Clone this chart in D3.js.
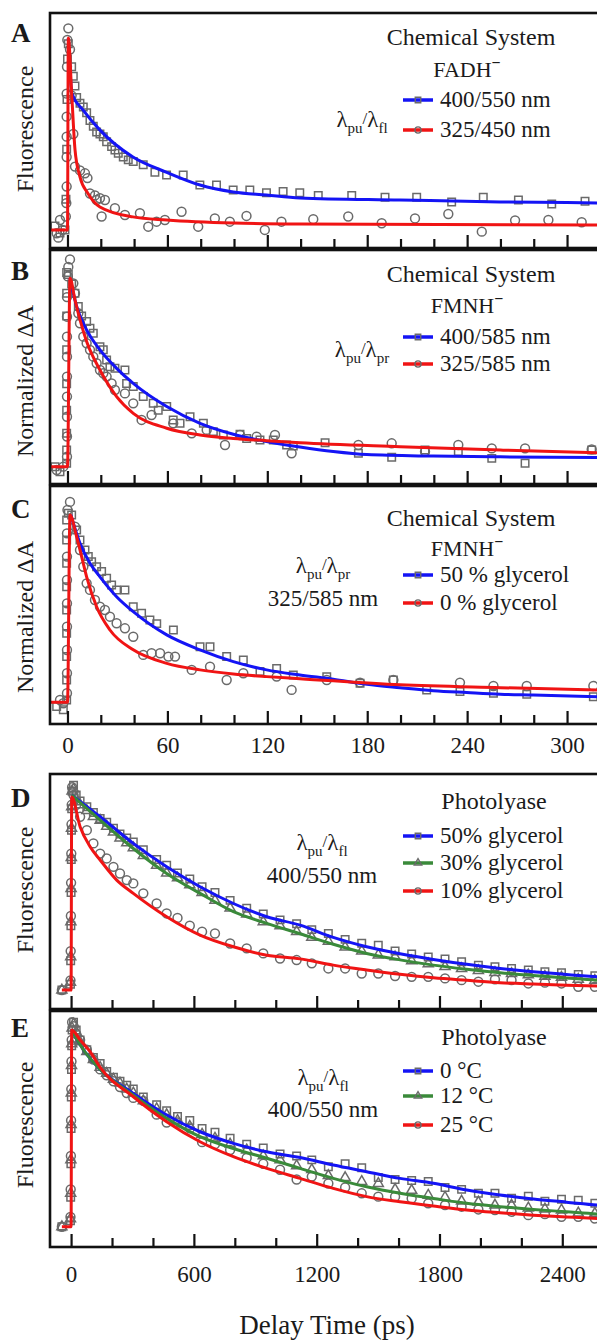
<!DOCTYPE html>
<html>
<head>
<meta charset="utf-8">
<script src="https://cdn.jsdelivr.net/npm/d3@7"></script>
<style>
body { margin: 0; background: #fff; }
svg text { font-family: "Times New Roman", "Liberation Serif", "DejaVu Serif", serif; fill: #1a1a1a; }
</style>
</head>
<body>
<script>
// ---------------- data (time in ps, normalized signal) ----------------

// panel A : FADH- fluorescence
var aSq400 = [[-7.5,0.02],[-4.5,-0.016],[-1.5,0],[-0.9,0.16],[-0.5,0.42],[-0.3,0.68],[0,0.89],[0.5,0.97],[2.5,0.85],[3.5,0.80],[4.5,0.75],[5.5,0.69],[7.5,0.66],[9.5,0.64],[11.5,0.61],[13.5,0.57],[15.5,0.54],[17.5,0.51],[19.5,0.50],[21.5,0.486],[23.5,0.46],[26.5,0.434],[28.5,0.417],[30.5,0.40],[33.5,0.38],[36.5,0.365],[39.5,0.356],[45.5,0.34],[52.5,0.30],[59.5,0.286],[69.5,0.286],[79.5,0.234],[89.5,0.234],[99.5,0.208],[109.5,0.208],[119.5,0.194],[129.5,0.2],[139.5,0.194],[150.6,0.18],[170.7,0.18],[190.7,0.17],[209.7,0.17],[230.7,0.146],[249.7,0.17],[270.8,0.156],[290.8,0.135],[310.8,0.15]];
var aCi325 = [[-6.5,-0.017],[-5.5,-0.04],[-4.5,0.052],[-3,0.0],[-1,0.07],[-0.7,0.14],[-0.5,0.226],[-0.5,0.38],[-0.5,0.486],[-0.5,0.59],[-0.5,0.71],[-0.3,0.85],[-0.1,0.99],[0.5,1.05],[1.5,0.94],[2.5,0.7],[3.5,0.5],[4.5,0.33],[7.5,0.31],[10.5,0.295],[12,0.27],[13.5,0.19],[16.5,0.18],[17.5,0.156],[19.5,0.165],[20.5,0.07],[22.5,0.156],[28.5,0.113],[34.5,0.078],[43.5,0.087],[48.5,0.017],[53.5,0.043],[58.5,0.052],[68.5,0.095],[78.5,0.017],[88.5,0.06],[97.5,0.043],[107.5,0.073],[118.5,0.0],[128.5,0.043],[147.6,0.056],[168.6,0.07],[188.7,0.035],[208.7,0.06],[228.7,0.083],[248.8,-0.009],[268.8,0.05],[288.8,0.052],[308.8,0.04]];
var aFit400 = [[0.5,1.0],[2.7,0.71],[9.3,0.625],[19.5,0.52],[39.3,0.38],[59.6,0.30],[79.6,0.234],[99.5,0.198],[119.5,0.182],[139.6,0.167],[199.7,0.156],[259.8,0.146],[318,0.141],[330,0.14]];
var aFit325 = [[-10.5,0],[0,0],[0.5,1.0],[2.7,0.68],[4.5,0.42],[7.5,0.276],[12.3,0.19],[19.5,0.12],[39.3,0.068],[59.6,0.052],[99.5,0.036],[139.6,0.031],[318,0.026],[330,0.026]];

// panel B : FMNH- transient absorption
var bSq400 = [[-7.5,0],[-4.5,-0.027],[-0.5,0.018],[-0.5,0.088],[-0.5,0.177],[-0.5,0.30],[-0.5,0.44],[-0.5,0.62],[-0.5,0.80],[-0.5,0.92],[-0.5,1.03],[0.5,1.02],[2.5,0.97],[4.5,0.92],[6.5,0.85],[8.5,0.80],[11.5,0.77],[13.5,0.735],[15.5,0.708],[19.5,0.637],[21.5,0.62],[23.5,0.566],[25.5,0.53],[28.5,0.522],[34.5,0.513],[35.5,0.442],[39.5,0.425],[45.5,0.372],[51.5,0.336],[54.5,0.30],[59.6,0.319],[63.5,0.248],[67.6,0.23],[73.6,0.265],[81.6,0.23],[87.6,0.186],[93.6,0.168],[103.6,0.172],[107.6,0.15],[115.6,0.142],[123.6,0.142],[131.6,0.115],[135.6,0.11],[154.7,0.127],[174.7,0.071],[194.7,0.05],[214.7,0.088],[234.7,0.08],[254.8,0.044],[274.8,0.018],[314.8,0.088]];
var bCi325 = [[-6.5,-0.018],[-2.5,0],[-0.3,0.053],[-0.3,0.16],[-0.3,0.265],[-0.3,0.372],[-0.3,0.478],[-0.3,0.584],[-0.3,0.69],[-0.3,0.796],[-0.3,0.90],[0.2,1.01],[0.5,1.06],[1.5,1.1],[3.5,0.973],[4.5,0.92],[6.5,0.814],[7.5,0.761],[9.5,0.69],[11.5,0.655],[13.5,0.62],[15.5,0.584],[17.5,0.549],[19.5,0.513],[21.5,0.496],[23.5,0.478],[26.5,0.442],[28.5,0.407],[34.5,0.389],[39.5,0.336],[44.5,0.248],[50.5,0.274],[63.5,0.23],[74.6,0.177],[83.6,0.195],[94.6,0.115],[103.6,0.168],[113.6,0.159],[124.6,0.168],[134.6,0.071],[174.7,0.115],[194.7,0.124],[214.7,0.08],[234.7,0.115],[254.8,0.097],[274.8,0.097],[314.8,0.092]];
var bFit400 = [[1.5,1.0],[5.5,0.85],[11.5,0.726],[19.5,0.62],[29.5,0.522],[39.5,0.442],[59.6,0.319],[79.6,0.23],[99.6,0.172],[119.6,0.133],[139.6,0.104],[159.6,0.08],[179.7,0.064],[219.7,0.056],[259.8,0.052],[318,0.049],[330,0.049]];
var bFit325 = [[-10.5,0],[0,0],[1.5,1.0],[4.5,0.885],[7.5,0.78],[11.5,0.664],[19.5,0.513],[29.5,0.372],[39.5,0.283],[59.6,0.204],[79.6,0.168],[99.6,0.15],[119.6,0.138],[139.6,0.127],[199.7,0.106],[259.8,0.088],[318,0.074],[330,0.072]];

// panel C : FMNH- in glycerol
var cSq50 = [[-6.5,-0.023],[-2.5,-0.04],[-0.5,0.012],[-0.5,0.119],[-0.5,0.244],[-0.5,0.368],[-0.5,0.493],[-0.5,0.617],[-0.5,0.742],[-0.5,0.867],[-0.5,0.973],[0.5,1.01],[2.5,1.0],[5.5,0.92],[7.5,0.867],[10.5,0.813],[12.5,0.778],[14.5,0.751],[17.5,0.724],[20.5,0.698],[23.5,0.662],[26.5,0.626],[29.5,0.6],[34.5,0.6],[39.5,0.51],[44.5,0.475],[49.5,0.44],[53.6,0.42],[63.6,0.386],[79.6,0.297],[85.6,0.297],[95.6,0.244],[105.6,0.226],[115.6,0.164],[125.6,0.181],[135.6,0.146],[155.7,0.137],[175.7,0.101],[195.7,0.119],[215.7,0.066],[235.7,0.057],[255.8,0.048],[275.8,0.043],[315.8,0.03]];
var cCi0 = [[-4.5,0.012],[-2.5,-0.005],[-0.3,0.048],[-0.3,0.155],[-0.3,0.279],[-0.3,0.404],[-0.3,0.528],[-0.3,0.653],[-0.3,0.778],[-0.3,0.902],[0,1.027],[1.5,1.07],[4.5,0.938],[7.5,0.813],[9.5,0.724],[11.5,0.635],[13.5,0.6],[16.5,0.546],[19.5,0.51],[22.5,0.493],[25.5,0.457],[29.5,0.422],[34.5,0.395],[39.5,0.35],[45.5,0.253],[50.5,0.262],[55.6,0.262],[60.6,0.244],[64.6,0.244],[74.6,0.173],[85.6,0.19],[95.6,0.119],[105.6,0.155],[125.6,0.137],[134.6,0.066],[155.7,0.119],[175.7,0.105],[195.7,0.119],[235.7,0.105],[255.8,0.087],[275.8,0.087],[315.8,0.087]];
var cFit50 = [[2,1.0],[7.5,0.849],[13.5,0.742],[19.5,0.67],[29.5,0.564],[39.5,0.484],[59.6,0.36],[79.6,0.28],[99.6,0.217],[119.6,0.173],[139.6,0.146],[159.6,0.123],[179.7,0.096],[199.7,0.078],[219.7,0.062],[239.8,0.052],[259.8,0.043],[279.8,0.039],[318,0.03],[330,0.028]];
var cFit0 = [[-10.5,0],[0,0],[1.5,1.0],[5.5,0.884],[8.5,0.778],[11.5,0.67],[17.5,0.51],[25.5,0.386],[39.5,0.28],[59.6,0.208],[79.6,0.173],[99.6,0.151],[119.6,0.137],[139.6,0.126],[199.7,0.093],[259.8,0.078],[318,0.066],[330,0.064]];

// panels D and E share one set of delay times
var longTimes = [-45,-3,-2,-1,0,1,2,3,5,12,25,44,77,109,142,174,207,239,272,304,353,418,467,520,580,640,703,777,858,939,1021,1102,1176,1257,1339,1420,1501,1583,1664,1745,1827,1908,1990,2071,2152,2234,2315,2396,2478,2559];

// panel D : photolyase, glycerol series
var dSq50 = [0,0.03,0.15,0.33,0.5,0.67,0.82,0.93,1.02,1.05,1.0,0.97,0.94,0.91,0.88,0.86,0.83,0.8,0.78,0.76,0.72,0.67,0.64,0.6,0.57,0.53,0.5,0.46,0.42,0.39,0.36,0.34,0.31,0.29,0.26,0.24,0.23,0.2,0.185,0.17,0.16,0.145,0.128,0.12,0.111,0.103,0.094,0.089,0.08,0.074];
var dTr30 = [0,0.04,0.17,0.35,0.52,0.68,0.83,0.94,1.02,1.03,0.98,0.95,0.92,0.89,0.87,0.84,0.81,0.78,0.755,0.73,0.69,0.64,0.6,0.575,0.54,0.5,0.46,0.42,0.39,0.35,0.33,0.3,0.27,0.25,0.22,0.2,0.18,0.17,0.15,0.135,0.12,0.11,0.1,0.09,0.085,0.078,0.07,0.065,0.055,0.05];
var dCi10 = [0,0.05,0.2,0.38,0.55,0.7,0.85,0.95,1.04,1.0,0.95,0.889,0.82,0.752,0.70,0.675,0.632,0.598,0.564,0.547,0.496,0.444,0.393,0.37,0.33,0.299,0.29,0.239,0.214,0.188,0.162,0.154,0.137,0.111,0.111,0.085,0.085,0.072,0.068,0.068,0.06,0.051,0.043,0.055,0.051,0.034,0.038,0.034,0.017,0.017];
var dFit50 = [[3,1.0],[142,0.889],[304,0.752],[467,0.632],[630,0.53],[793,0.444],[956,0.376],[1119,0.333],[1281,0.27],[1444,0.222],[1607,0.186],[1770,0.157],[1933,0.132],[2096,0.111],[2258,0.094],[2420,0.08],[2570,0.068],[2700,0.06]];
var dFit30 = [[3,1.0],[142,0.872],[304,0.726],[467,0.598],[630,0.496],[793,0.402],[956,0.342],[1119,0.289],[1281,0.235],[1444,0.188],[1607,0.155],[1770,0.128],[1933,0.107],[2096,0.089],[2258,0.075],[2420,0.062],[2570,0.051],[2700,0.045]];
var dFit10 = [[-45,0],[0,0],[3,0.99],[44,0.838],[93,0.735],[142,0.667],[223,0.564],[304,0.496],[467,0.376],[630,0.282],[793,0.222],[956,0.179],[1119,0.16],[1281,0.128],[1444,0.103],[1607,0.081],[1770,0.063],[1933,0.05],[2096,0.038],[2258,0.031],[2420,0.025],[2570,0.021],[2700,0.019]];

// panel E : photolyase, temperature series
var eSq0 = [0,0.03,0.15,0.32,0.5,0.66,0.8,0.92,1.0,1.04,1.0,0.95,0.9,0.86,0.83,0.79,0.76,0.74,0.72,0.7,0.66,0.62,0.59,0.56,0.54,0.5,0.48,0.45,0.42,0.4,0.37,0.36,0.34,0.305,0.32,0.3,0.25,0.24,0.235,0.23,0.2,0.19,0.17,0.17,0.145,0.155,0.13,0.14,0.135,0.12];
var eTr12 = [0,0.04,0.17,0.34,0.52,0.68,0.82,0.93,1.01,1.03,0.99,0.94,0.89,0.85,0.81,0.78,0.75,0.73,0.7,0.68,0.64,0.6,0.57,0.54,0.51,0.47,0.45,0.42,0.39,0.36,0.34,0.31,0.29,0.26,0.25,0.23,0.22,0.19,0.185,0.16,0.15,0.13,0.125,0.11,0.11,0.095,0.09,0.085,0.07,0.068];
var eCi25 = [0,0.05,0.19,0.36,0.54,0.7,0.84,0.95,1.04,1.02,0.98,0.95,0.9,0.85,0.8,0.77,0.74,0.71,0.68,0.655,0.64,0.57,0.53,0.53,0.5,0.43,0.42,0.39,0.35,0.32,0.29,0.24,0.255,0.22,0.2,0.17,0.153,0.153,0.144,0.119,0.11,0.102,0.088,0.085,0.076,0.059,0.064,0.051,0.051,0.042];
var eFit0 = [[3,1.0],[60,0.9],[142,0.80],[304,0.678],[467,0.568],[630,0.483],[793,0.424],[956,0.381],[1119,0.352],[1281,0.314],[1444,0.28],[1607,0.246],[1770,0.221],[1933,0.187],[2096,0.161],[2258,0.141],[2420,0.125],[2570,0.11],[2700,0.1]];
var eFit12 = [[3,1.0],[60,0.9],[142,0.80],[304,0.669],[467,0.551],[630,0.458],[793,0.398],[956,0.348],[1119,0.297],[1281,0.246],[1444,0.203],[1607,0.17],[1770,0.144],[1933,0.119],[2096,0.102],[2258,0.088],[2420,0.076],[2570,0.065],[2700,0.058]];
var eFit25 = [[-45,0],[0,0],[3,1.0],[44,0.95],[93,0.89],[142,0.81],[304,0.661],[467,0.534],[630,0.432],[793,0.356],[956,0.297],[1119,0.246],[1281,0.195],[1444,0.153],[1607,0.127],[1770,0.105],[1933,0.085],[2096,0.071],[2258,0.059],[2420,0.05],[2570,0.042],[2700,0.037]];

// tick values and legend texts
var shortMajor = [0, 60, 120, 180, 240, 300];
var shortMinor = [20, 40, 80, 100, 140, 160, 200, 220, 260, 280, 320];
var longMajor = [0, 600, 1200, 1800, 2400];
var longMinor = [200, 400, 800, 1000, 1400, 1600, 2000, 2200, 2600];
var aLabels = ["400/550 nm", "325/450 nm"];
var bLabels = ["400/585 nm", "325/585 nm"];
var cLabels = ["50 % glycerol", "0 % glycerol"];
var dLabels = ["50% glycerol", "30% glycerol", "10% glycerol"];
var eLabels = ["0 \u00B0C", "12 \u00B0C", "25 \u00B0C"];

// ---------------- drawing ----------------
var SERIF = "'Times New Roman', 'Liberation Serif', 'DejaVu Serif', serif";
var BLUE = "#1414f5", RED = "#f01414", GREEN = "#3a8a3a", GREY = "#6a6a6a";

var svg = d3.select("body").append("svg")
    .attr("width", 597)
    .attr("height", 1343)
    .attr("font-family", SERIF);

var xShort = d3.scaleLinear().domain([-10.5, 330]).range([50, 617]);
var xLong = d3.scaleLinear().domain([-103, 2700]).range([50, 623.7]);

function zipT(times, vals) { return times.map(function(t, i) { return [t, vals[i]]; }); }

var panels = [
  {letter: "A", letterY: 42, top: 13, bottom: 248, yDom: [-0.094, 1.13], x: xShort, ylab: "Fluorescence", ylabY: 129,
   series: [
     {pts: aSq400, fit: aFit400, color: BLUE, shape: d3.symbolSquare},
     {pts: aCi325, fit: aFit325, color: RED, shape: d3.symbolCircle}]},
  {letter: "B", letterY: 280, top: 250, bottom: 484, yDom: [-0.092, 1.15], x: xShort, ylab: "Normalized \u0394A", ylabY: 381,
   series: [
     {pts: bSq400, fit: bFit400, color: BLUE, shape: d3.symbolSquare},
     {pts: bCi325, fit: bFit325, color: RED, shape: d3.symbolCircle}]},
  {letter: "C", letterY: 518, top: 486, bottom: 724, yDom: [-0.116, 1.155], x: xShort, ylab: "Normalized \u0394A", ylabY: 617,
   series: [
     {pts: cSq50, fit: cFit50, color: BLUE, shape: d3.symbolSquare},
     {pts: cCi0, fit: cFit0, color: RED, shape: d3.symbolCircle}]},
  {letter: "D", letterY: 807, top: 774, bottom: 1009, yDom: [-0.097, 1.108], x: xLong, ylab: "Fluorescence", ylabY: 890,
   series: [
     {pts: zipT(longTimes, dSq50), fit: dFit50, color: BLUE, shape: d3.symbolSquare},
     {pts: zipT(longTimes, dTr30), fit: dFit30, color: GREEN, shape: d3.symbolTriangle},
     {pts: zipT(longTimes, dCi10), fit: dFit10, color: RED, shape: d3.symbolCircle}]},
  {letter: "E", letterY: 1037, top: 1011, bottom: 1247, yDom: [-0.103, 1.097], x: xLong, ylab: "Fluorescence", ylabY: 1125,
   series: [
     {pts: zipT(longTimes, eSq0), fit: eFit0, color: BLUE, shape: d3.symbolSquare},
     {pts: zipT(longTimes, eTr12), fit: eFit12, color: GREEN, shape: d3.symbolTriangle},
     {pts: zipT(longTimes, eCi25), fit: eFit25, color: RED, shape: d3.symbolCircle}]}
];

function markerSize(shape) {
  if (shape === d3.symbolSquare) return 56;
  if (shape === d3.symbolTriangle) return 44;
  return 62;
}

panels.forEach(function(p) {
  var x = p.x;
  var y = d3.scaleLinear().domain(p.yDom).range([p.bottom, p.top]);
  var g = svg.append("g").attr("class", "panel");

  // data markers
  p.series.forEach(function(s) {
    g.append("g").selectAll("path")
      .data(s.pts)
      .enter().append("path")
      .attr("d", d3.symbol().type(s.shape).size(markerSize(s.shape)))
      .attr("transform", function(d) { return "translate(" + x(d[0]) + "," + y(d[1]) + ")"; })
      .attr("fill", "none")
      .attr("stroke", GREY)
      .attr("stroke-width", 1.5);
  });

  // fitted curves on top
  var line = d3.line()
    .x(function(d) { return x(d[0]); })
    .y(function(d) { return y(d[1]); })
    .curve(d3.curveMonotoneX);
  p.series.forEach(function(s) {
    g.append("path")
      .datum(s.fit)
      .attr("d", line)
      .attr("fill", "none")
      .attr("stroke", s.color)
      .attr("stroke-width", 3);
  });

  // frame
  g.append("rect")
    .attr("x", 50).attr("y", p.top)
    .attr("width", 620).attr("height", p.bottom - p.top)
    .attr("fill", "none").attr("stroke", "#111").attr("stroke-width", 2.6);

  // inward ticks
  var major = x === xShort ? shortMajor : longMajor;
  var minor = x === xShort ? shortMinor : longMinor;
  var ax = g.append("g").attr("transform", "translate(0," + p.bottom + ")");
  ax.append("g").call(d3.axisBottom(x).tickValues(major).tickSize(-13).tickFormat(""));
  ax.append("g").call(d3.axisBottom(x).tickValues(minor).tickSize(-9).tickFormat(""));
  ax.selectAll(".domain").remove();
  ax.selectAll(".tick line").attr("stroke", "#111").attr("stroke-width", 2.2);

  // panel letter and y label
  svg.append("text")
    .attr("x", 11).attr("y", p.letterY)
    .style("font-size", "27px").style("font-weight", "bold")
    .text(p.letter);
  svg.append("text")
    .attr("transform", "translate(33," + p.ylabY + ") rotate(-90)")
    .attr("text-anchor", "middle")
    .style("font-size", "24px")
    .text(p.ylab);
});

// tick labels under C and E
function tickLabels(x, values, yPos, pad) {
  var a = svg.append("g")
    .attr("transform", "translate(0," + yPos + ")")
    .call(d3.axisBottom(x).tickValues(values).tickSize(0).tickPadding(pad).tickFormat(d3.format("d")));
  a.attr("font-family", SERIF).attr("font-size", 23);
  a.select(".domain").remove();
  a.selectAll("text").attr("fill", "#1a1a1a");
}
tickLabels(xShort, shortMajor, 724, 13);
tickLabels(xLong, longMajor, 1247, 19);

svg.append("text")
  .attr("x", 327).attr("y", 1334)
  .attr("text-anchor", "middle")
  .style("font-size", "27px")
  .text("Delay Time (ps)");

// ---------------- legends ----------------
function centered(txt, cx, by, size) {
  return svg.append("text").attr("x", cx).attr("y", by)
    .attr("text-anchor", "middle").style("font-size", (size || 23) + "px").text(txt);
}
function anion(name, cx, by) {
  var t = centered(name, cx, by, 22);
  t.append("tspan").attr("dy", -9).style("font-size", "16px").style("font-weight", "bold").text("\u2212");
}
function lambda(cx, by, sub2) {
  var t = svg.append("text").attr("x", cx).attr("y", by)
    .attr("text-anchor", "middle").style("font-size", "23px");
  t.append("tspan").text("\u03BB");
  t.append("tspan").attr("dy", 6).style("font-size", "15px").text("pu");
  t.append("tspan").attr("dy", -9).style("font-size", "17px").text("/");
  t.append("tspan").attr("dy", 3).text("\u03BB");
  t.append("tspan").attr("dy", 6).style("font-size", "15px").text(sub2);
}
function entry(label, color, shape, ly) {
  svg.append("line")
    .attr("x1", 403).attr("x2", 433).attr("y1", ly).attr("y2", ly)
    .attr("stroke", color).attr("stroke-width", 3.5);
  svg.append("path")
    .attr("d", d3.symbol().type(shape).size(shape === d3.symbolTriangle ? 24 : 30))
    .attr("transform", "translate(418," + ly + ")")
    .attr("fill", "none").attr("stroke", GREY).attr("stroke-width", 1.4);
  svg.append("text").attr("x", 440).attr("y", ly + 7)
    .style("font-size", "23px").text(label);
}

// A
centered("Chemical System", 471, 45, 24);
anion("FADH", 467, 77);
lambda(362, 127, "fl");
entry(aLabels[0], BLUE, d3.symbolSquare, 100);
entry(aLabels[1], RED, d3.symbolCircle, 130);

// B
centered("Chemical System", 471, 282, 24);
anion("FMNH", 467, 313);
lambda(362, 357, "pr");
entry(bLabels[0], BLUE, d3.symbolSquare, 337);
entry(bLabels[1], RED, d3.symbolCircle, 364);

// C
centered("Chemical System", 471, 526, 24);
anion("FMNH", 467, 556);
lambda(323, 573, "pr");
centered("325/585 nm", 323, 606);
entry(cLabels[0], BLUE, d3.symbolSquare, 575);
entry(cLabels[1], RED, d3.symbolCircle, 603);

// D
centered("Photolyase", 494, 809, 24);
lambda(322, 850, "fl");
centered("400/550 nm", 322, 883);
entry(dLabels[0], BLUE, d3.symbolSquare, 836);
entry(dLabels[1], GREEN, d3.symbolTriangle, 863);
entry(dLabels[2], RED, d3.symbolCircle, 891);

// E
centered("Photolyase", 494, 1045, 24);
lambda(323, 1085, "fl");
centered("400/550 nm", 323, 1117);
entry(eLabels[0], BLUE, d3.symbolSquare, 1071);
entry(eLabels[1], GREEN, d3.symbolTriangle, 1096);
entry(eLabels[2], RED, d3.symbolCircle, 1125);
</script>
</body>
</html>
